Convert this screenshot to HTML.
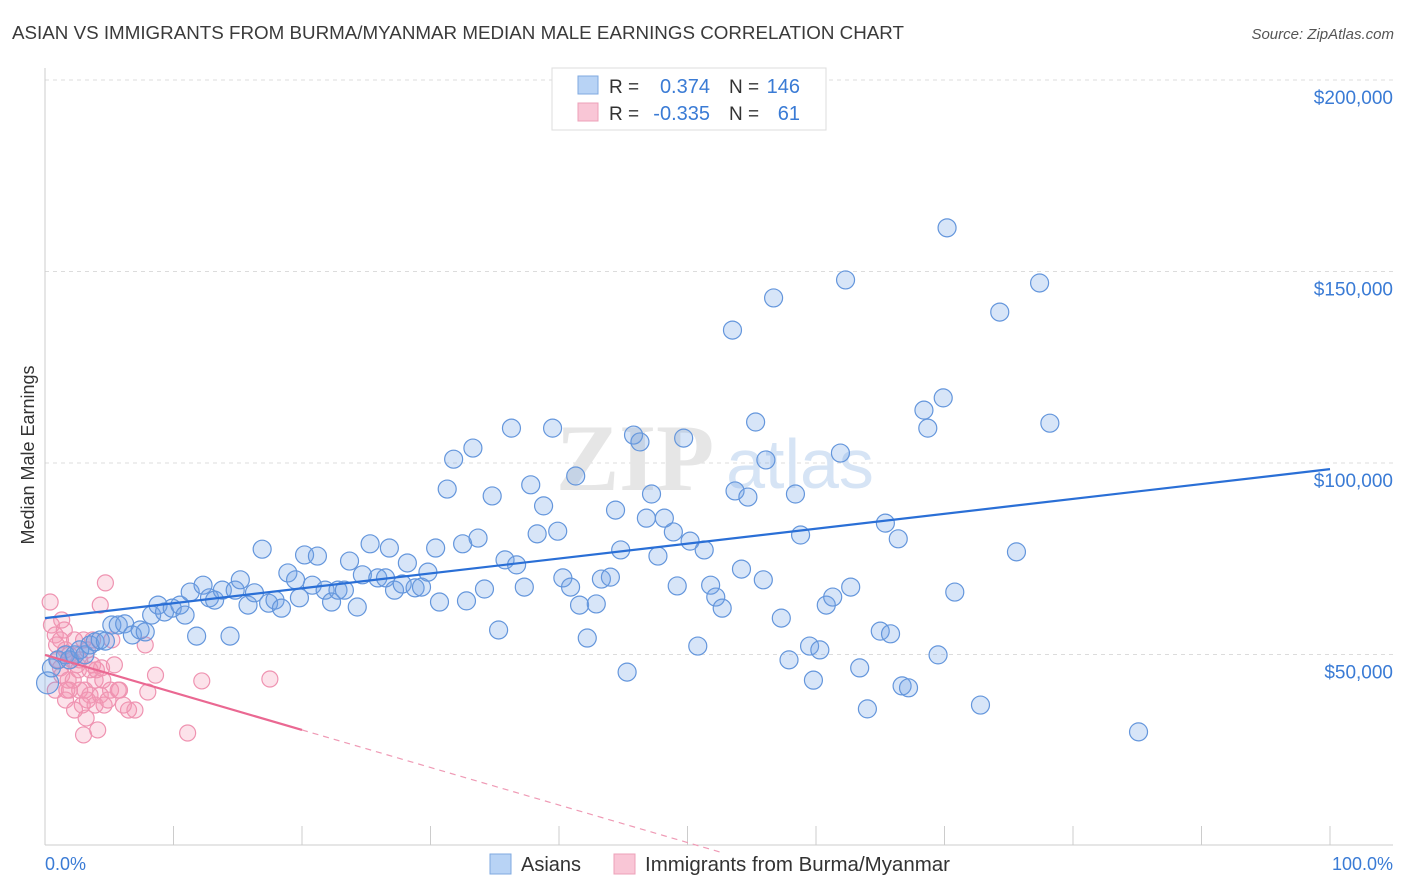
<!DOCTYPE html>
<html><head><meta charset="utf-8">
<style>
body{margin:0;background:#fff;width:1406px;height:892px;overflow:hidden;font-family:"Liberation Sans",sans-serif}
svg{position:absolute;left:0;top:0}
</style></head>
<body>
<svg id="chart" width="1406" height="892">
<text x="12" y="39" font-size="18" fill="#3a3a3a" textLength="892" lengthAdjust="spacingAndGlyphs">ASIAN VS IMMIGRANTS FROM BURMA/MYANMAR MEDIAN MALE EARNINGS CORRELATION CHART</text>
<text x="1394" y="39" font-size="15" fill="#555" font-style="italic" text-anchor="end">Source: ZipAtlas.com</text>
<text x="34" y="455" font-size="18" fill="#333" text-anchor="middle" transform="rotate(-90 34 455)">Median Male Earnings</text>
<g id="grid"></g>
<g id="watermark">
<text x="635" y="490" font-size="95" fill="#e6e6e6" font-family="Liberation Serif,serif" font-weight="bold" text-anchor="middle">ZIP</text>
<text x="800" y="488" font-size="70" fill="#d6e4f5" text-anchor="middle">atlas</text>
</g>
<g id="axes"></g>
<g id="pink"></g>
<g id="blue"></g>
<g id="trends"></g>
<g>
<rect x="552" y="68" width="274" height="62" fill="#fff" stroke="#ddd"/>
<rect x="578" y="76" width="20" height="18" fill="#b8d3f5" stroke="#7fa9e0"/>
<rect x="578" y="103" width="20" height="18" fill="#f9c6d6" stroke="#eda0b8"/>
<text x="609" y="93" font-size="19" fill="#333">R = </text><text x="710" y="93" font-size="20" fill="#3a7bd5" text-anchor="end">0.374</text>
<text x="729" y="93" font-size="19" fill="#333">N = </text><text x="800" y="93" font-size="20" fill="#3a7bd5" text-anchor="end">146</text>
<text x="609" y="120" font-size="19" fill="#333">R = </text><text x="710" y="120" font-size="20" fill="#3a7bd5" text-anchor="end">-0.335</text>
<text x="729" y="120" font-size="19" fill="#333">N = </text><text x="800" y="120" font-size="20" fill="#3a7bd5" text-anchor="end">61</text>
</g>
<g>
<rect x="490" y="854" width="21" height="20" fill="#b8d3f5" stroke="#7fa9e0"/>
<text x="521" y="871" font-size="20" fill="#333">Asians</text>
<rect x="614" y="854" width="21" height="20" fill="#f9c6d6" stroke="#eda0b8"/>
<text x="645" y="871" font-size="20" fill="#333" textLength="305" lengthAdjust="spacingAndGlyphs">Immigrants from Burma/Myanmar</text>
</g>
<text x="45" y="870" font-size="18" fill="#3a7bd5">0.0%</text>
<text x="1393" y="870" font-size="18" fill="#3a7bd5" text-anchor="end">100.0%</text>
</svg>
<script>
const yTicks=[50,100,150,200];
const yTickLabels=["$50,000","$100,000","$150,000","$200,000"];
const xTicks=[0,10,20,30,40,50,60,70,80,90,100];
const blueX=[0.2,0.5,1.0,1.6,1.9,2.3,2.7,3.1,3.5,3.9,4.3,4.7,5.2,5.7,6.2,6.8,7.4,7.8,8.3,8.8,9.3,9.9,10.5,10.9,11.3,11.8,12.3,12.8,13.2,13.8,14.4,14.8,15.2,15.8,16.3,16.9,17.4,17.9,18.4,18.9,19.5,19.8,20.2,20.8,21.2,21.8,22.3,22.8,23.3,23.7,24.3,24.7,25.3,25.9,26.5,26.8,27.2,27.8,28.2,28.8,29.3,29.8,30.4,30.7,31.3,31.8,32.5,32.8,33.3,33.7,34.2,34.8,35.3,35.8,36.3,36.7,37.3,37.8,38.3,38.8,39.5,39.9,40.3,40.9,41.3,41.6,42.2,42.9,43.3,44.0,44.4,44.8,45.3,45.8,46.3,46.8,47.2,47.7,48.2,48.9,49.2,49.7,50.2,50.8,51.3,51.8,52.2,52.7,53.5,53.7,54.2,54.7,55.3,55.9,56.1,56.7,57.3,57.9,58.4,58.8,59.5,59.8,60.3,60.8,61.3,61.9,62.3,62.7,63.4,64.0,65.0,65.4,65.8,66.4,66.7,67.2,68.4,68.7,69.5,69.9,70.2,70.8,72.8,74.3,75.6,77.4,78.2,85.1];
const blueY=[42.6,46.5,48.6,49.9,48.6,49.9,51.2,49.9,52.5,53.3,53.8,53.5,57.7,57.7,58.0,55.1,56.4,55.9,60.3,62.9,61.1,62.1,62.9,60.3,66.3,54.8,68.1,64.8,64.2,66.8,54.8,66.8,69.5,62.9,66.1,77.5,63.4,64.2,62.1,71.3,69.5,64.8,76.0,68.1,75.7,66.8,63.7,66.8,66.8,74.4,62.4,70.8,78.9,70.0,70.0,77.8,66.8,68.4,73.9,67.4,67.6,71.5,77.8,63.7,93.2,101.0,78.9,64.0,103.9,80.4,67.1,91.4,56.4,74.7,109.1,73.4,67.6,94.3,81.5,88.8,109.1,82.2,70.0,67.6,96.6,62.9,54.3,63.2,69.7,70.2,87.7,77.3,45.4,107.3,105.5,85.6,91.9,75.7,85.6,82.0,67.9,106.5,79.6,52.2,77.3,68.1,65.0,62.1,134.7,92.7,72.3,91.1,110.7,69.5,100.8,143.1,59.5,48.6,91.9,81.2,52.2,43.3,51.2,62.9,65.0,102.6,147.8,67.6,46.5,35.8,56.1,84.3,55.4,80.2,41.8,41.3,113.8,109.1,49.9,117.0,161.4,66.3,36.8,139.4,76.8,147.0,110.4,29.8];
const pinkX=[0.4,0.5,0.8,0.9,1.0,1.2,1.3,1.5,1.6,1.8,1.9,2.1,2.3,2.6,2.7,2.9,3.0,3.2,3.3,3.5,3.7,3.9,4.1,4.3,4.4,4.6,4.7,5.1,5.4,5.8,6.5,7.0,7.8,8.0,8.6,11.1,12.2,17.5,0.8,1.2,1.6,1.9,2.3,2.7,3.1,3.5,3.9,4.3,1.3,1.7,2.2,2.5,3.0,3.3,3.7,4.0,4.5,4.9,5.2,5.7,6.1];
const pinkY=[63.7,57.7,55.1,52.5,48.6,46.5,44.6,56.4,51.2,43.3,40.7,48.6,53.8,46.0,40.7,36.8,29.0,33.4,51.2,39.4,47.3,43.3,30.3,62.9,46.5,36.8,68.7,40.7,47.3,40.7,35.5,35.5,52.5,40.2,44.6,29.5,43.1,43.6,40.7,53.8,38.1,49.9,35.5,48.6,40.7,46.0,36.8,39.4,59.0,40.7,43.3,47.3,53.8,38.1,53.8,46.0,43.3,38.1,53.8,40.7,36.8];
const blueTrend=[59.5,98.4];
const pinkTrend=[49.9,-0.98];
const pinkSolidEnd=20, pinkDashEnd=52.5;

const NS="http://www.w3.org/2000/svg";
const sx=v=>45+v*12.85;
const sy=v=>846-v*3.83;
function mk(tag,attrs,parent){const e=document.createElementNS(NS,tag);for(const k in attrs)e.setAttribute(k,attrs[k]);parent.appendChild(e);return e;}
const grid=document.getElementById('grid'),axes=document.getElementById('axes');
yTicks.forEach((t,i)=>{
  const l=mk('line',{x1:45,x2:1393,y1:sy(t),y2:sy(t),stroke:'#dcdcdc','stroke-dasharray':'4,4'},grid);
  
  
  const tx=mk('text',{x:1393,y:sy(t)+24,'font-size':19,fill:'#3a7bd5','text-anchor':'end'},grid);
  tx.textContent=yTickLabels[i];
  
  
});
const ya=mk('line',{x1:45,x2:45,y1:68,y2:845,stroke:'#ccc'},axes);


const xa=mk('line',{x1:45,x2:1393,y1:845,y2:845,stroke:'#ccc'},axes);


xTicks.forEach(t=>{
  const l=mk('line',{x1:sx(t),x2:sx(t),y1:826,y2:845,stroke:'#ccc'},axes);
  
  
});
const pg=document.getElementById('pink');
pinkX.forEach((x,i)=>{
  const c=mk('circle',{cx:sx(x),cy:sy(pinkY[i]),r:8,fill:'rgba(244,150,180,0.28)',stroke:'#ef93b1','stroke-width':1.2},pg);
  
  
});
const bg=document.getElementById('blue');
blueX.forEach((x,i)=>{
  const c=mk('circle',{cx:sx(x),cy:sy(blueY[i]),r:i==0?11:9,fill:'rgba(110,160,230,0.28)',stroke:'#6496dc','stroke-width':1.2},bg);
  
  
});
const tr=document.getElementById('trends');
const bl=mk('line',{x1:sx(0),y1:sy(blueTrend[0]),x2:sx(100),y2:sy(blueTrend[1]),stroke:'#2a6fd6','stroke-width':2.2},tr);


const pf=x=>pinkTrend[0]+pinkTrend[1]*x;
const ps=mk('line',{x1:sx(0),y1:sy(pf(0)),x2:sx(pinkSolidEnd),y2:sy(pf(pinkSolidEnd)),stroke:'#ea6892','stroke-width':2.2},tr);


const pd=mk('line',{x1:sx(pinkSolidEnd),y1:sy(pf(pinkSolidEnd)),x2:sx(pinkDashEnd),y2:sy(pf(pinkDashEnd)),stroke:'#ef9ab5','stroke-width':1.2,'stroke-dasharray':'6,5'},tr);


</script>
</body></html>
